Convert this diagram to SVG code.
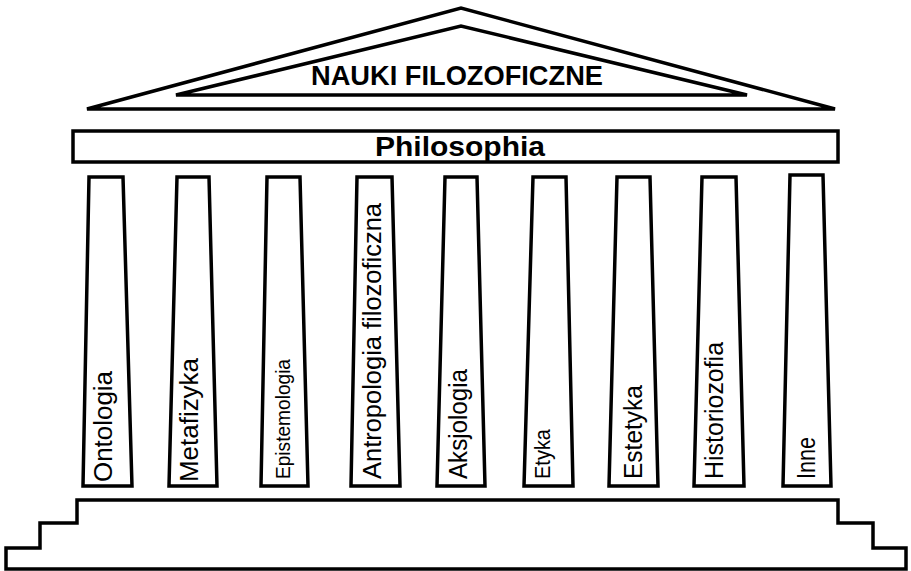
<svg xmlns="http://www.w3.org/2000/svg" width="911" height="571" viewBox="0 0 911 571">
<style>
.ln{fill:#fff;stroke:#000;stroke-width:3.5;stroke-linejoin:miter}
.tb{font-family:"Liberation Sans",Arial,sans-serif;font-weight:bold;fill:#000}
.tc{font-family:"Liberation Sans",Arial,sans-serif;fill:#000}
</style>
<rect width="911" height="571" fill="#fff"/>
<g id="pediment">
<polygon class="ln" points="87,109 461,8 835,109"/>
<polygon class="ln" points="176,95 461,26 747,95" stroke-width="3"/>
<text class="tb" x="457" y="85" font-size="27" text-anchor="middle" textLength="292" lengthAdjust="spacingAndGlyphs">NAUKI FILOZOFICZNE</text>
</g>
<g id="entablature">
<rect class="ln" x="73" y="131" width="765" height="31"/>
<text class="tb" x="460" y="156" font-size="27" text-anchor="middle" textLength="170" lengthAdjust="spacingAndGlyphs">Philosophia</text>
</g>
<g id="col-ontologia">
<polygon class="ln" points="89,177 123,177 132,486 83,486"/>
<text class="tc" transform="translate(112,482) rotate(-90)" font-size="26" textLength="111" lengthAdjust="spacingAndGlyphs">Ontologia</text>
</g>
<g id="col-metafizyka">
<polygon class="ln" points="177,177 209,177 217,486 169,486"/>
<text class="tc" transform="translate(198,482) rotate(-90)" font-size="26" textLength="124" lengthAdjust="spacingAndGlyphs">Metafizyka</text>
</g>
<g id="col-epistemologia">
<polygon class="ln" points="267,177 300,177 308,486 261,486"/>
<text class="tc" transform="translate(290,479) rotate(-90)" font-size="21" textLength="120" lengthAdjust="spacingAndGlyphs">Epistemologia</text>
</g>
<g id="col-antropologia">
<polygon class="ln" points="357,177 392,177 400,486 351,486"/>
<text class="tc" transform="translate(381,479) rotate(-90)" font-size="26" textLength="276" lengthAdjust="spacingAndGlyphs">Antropologia filozoficzna</text>
</g>
<g id="col-aksjologia">
<polygon class="ln" points="445,177 477,177 485,486 437,486"/>
<text class="tc" transform="translate(467,479) rotate(-90)" font-size="26" textLength="110" lengthAdjust="spacingAndGlyphs">Aksjologia</text>
</g>
<g id="col-etyka">
<polygon class="ln" points="533,177 566,177 573,486 524,486"/>
<text class="tc" transform="translate(550,479) rotate(-90)" font-size="21.5" textLength="50" lengthAdjust="spacingAndGlyphs">Etyka</text>
</g>
<g id="col-estetyka">
<polygon class="ln" points="617,177 650,177 658,486 609,486"/>
<text class="tc" transform="translate(642,479) rotate(-90)" font-size="26.5" textLength="94" lengthAdjust="spacingAndGlyphs">Estetyka</text>
</g>
<g id="col-historiozofia">
<polygon class="ln" points="702,177 736,177 744,486 694,486"/>
<text class="tc" transform="translate(723,479) rotate(-90)" font-size="26" textLength="137" lengthAdjust="spacingAndGlyphs">Historiozofia</text>
</g>
<g id="col-inne">
<polygon class="ln" points="790,175 823,175 831,486 783,486"/>
<text class="tc" transform="translate(815,479) rotate(-90)" font-size="25" textLength="42" lengthAdjust="spacingAndGlyphs">Inne</text>
</g>
<g id="base">
<path class="ln" d="M77,500 H838 V523 H873 V548 H906 V569 H6 V548 H40 V523 H77 Z"/>
</g>
<g id="connectors"></g>
</svg>
